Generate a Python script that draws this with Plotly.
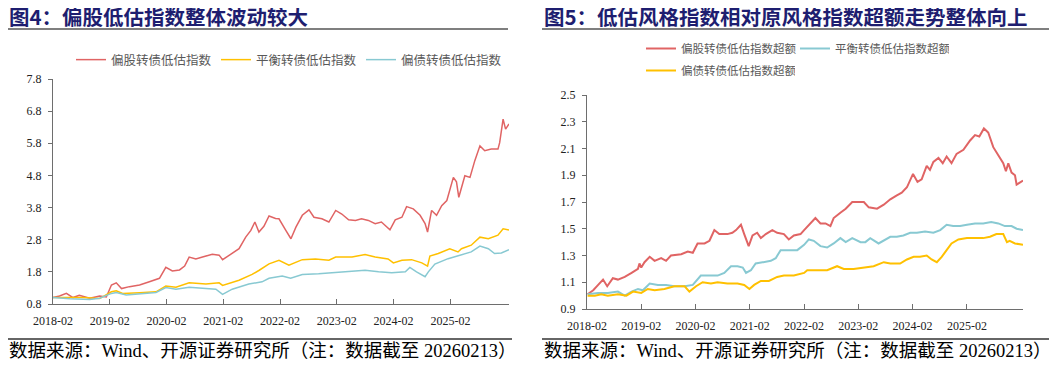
import plotly.graph_objects as go

# ---------------- Figure 4 data (left panel) ----------------
l_red_dates = ["2018-02-01","2018-02-20","2018-03-15","2018-04-28","2018-06-10","2018-07-20","2018-09-25","2018-11-01","2018-11-28","2019-01-10",
               "2019-02-12","2019-03-15","2019-04-18","2019-06-08","2019-08-12","2019-10-14","2019-12-18","2020-01-28","2020-03-10","2020-04-25",
               "2020-05-28","2020-06-26","2020-08-08","2020-09-20","2020-11-22","2021-01-05","2021-01-27","2021-03-22","2021-05-13","2021-06-25",
               "2021-07-28","2021-08-23","2021-09-18","2021-10-20","2021-11-22","2022-01-03","2022-01-25","2022-03-10","2022-04-12","2022-05-14",
               "2022-06-24","2022-08-06","2022-09-07","2022-10-28","2022-12-12","2023-01-25","2023-03-05","2023-04-18","2023-06-01","2023-07-10",
               "2023-08-23","2023-10-06","2023-11-15","2024-01-09","2024-02-12","2024-03-26","2024-04-25","2024-06-07","2024-07-21","2024-08-22",
               "2024-09-07","2024-10-03","2024-11-04","2024-12-07","2025-01-09","2025-02-20","2025-03-12","2025-03-27","2025-05-05","2025-06-07",
               "2025-07-08","2025-08-10","2025-09-10","2025-10-22","2025-12-04","2025-12-15","2026-01-06","2026-01-22","2026-02-13"]
l_red_vals = [1.00,1.02,1.05,1.13,1.00,1.07,0.98,1.02,1.05,1.02,
              1.39,1.46,1.28,1.34,1.39,1.49,1.60,1.94,1.83,1.86,
              1.98,2.26,2.20,2.26,2.35,2.32,2.18,2.35,2.52,2.88,
              3.09,3.35,3.04,3.22,3.54,3.46,3.45,3.09,2.83,3.19,
              3.56,3.73,3.50,3.45,3.35,3.71,3.60,3.42,3.40,3.45,
              3.40,3.30,3.35,3.11,3.42,3.50,3.83,3.76,3.56,3.30,
              3.04,3.71,3.56,3.86,4.02,4.74,4.60,4.12,4.79,4.74,
              5.26,5.72,5.57,5.62,5.62,5.82,6.55,6.24,6.40]

l_yel_dates = ["2018-02-01","2018-05-20","2018-08-13","2018-11-28","2019-02-12","2019-03-15","2019-04-25","2019-08-12","2019-11-26","2020-01-28",
               "2020-04-02","2020-06-26","2020-10-12","2021-01-05","2021-01-27","2021-05-13","2021-08-05","2021-09-20","2021-11-22","2022-01-25",
               "2022-03-30","2022-06-24","2022-09-16","2022-12-12","2023-01-25","2023-05-10","2023-08-02","2023-10-06","2023-12-28","2024-01-31",
               "2024-03-26","2024-05-27","2024-08-01","2024-09-07","2024-09-22","2024-11-15","2025-01-28","2025-03-22","2025-04-13","2025-06-15",
               "2025-08-10","2025-10-03","2025-12-04","2026-01-06","2026-02-13"]
l_yel_vals = [1.00,1.01,1.00,0.97,1.18,1.21,1.13,1.15,1.18,1.36,
              1.32,1.46,1.42,1.46,1.38,1.54,1.72,1.85,2.05,2.16,
              2.01,2.18,2.20,2.16,2.26,2.26,2.34,2.26,2.20,2.08,
              2.16,2.18,2.08,1.98,2.29,2.37,2.52,2.42,2.52,2.63,
              2.88,2.83,2.94,3.14,3.10]

l_teal_dates = ["2018-02-01","2018-05-20","2018-09-25","2018-11-28","2019-02-12","2019-03-15","2019-05-18","2019-09-01","2019-11-26","2020-01-28",
                "2020-04-02","2020-06-26","2020-10-12","2020-12-15","2021-01-27","2021-03-30","2021-07-15","2021-10-08","2021-11-22","2022-02-15",
                "2022-04-10","2022-06-24","2022-10-07","2023-01-25","2023-05-10","2023-08-02","2023-10-28","2024-01-20","2024-04-17","2024-05-16",
                "2024-06-28","2024-08-22","2024-09-12","2024-10-24","2025-01-17","2025-03-22","2025-06-15","2025-08-10","2025-10-03","2025-11-12",
                "2025-12-26","2026-02-13"]
l_teal_vals = [1.00,0.96,0.94,0.98,1.13,1.16,1.08,1.13,1.16,1.31,
               1.26,1.32,1.29,1.26,1.10,1.26,1.42,1.49,1.60,1.67,
               1.60,1.72,1.74,1.78,1.80,1.85,1.80,1.77,1.80,1.94,
               1.80,1.65,1.80,2.04,2.21,2.29,2.42,2.60,2.52,2.37,
               2.39,2.49]

# ---------------- Figure 5 data (right panel) ----------------
r_red_dates = ["2018-02-05","2018-03-15","2018-04-17","2018-05-20","2018-06-17","2018-07-25","2018-08-28","2018-10-13","2018-11-28","2019-01-10",
               "2019-01-20","2019-02-01","2019-02-23","2019-03-30","2019-05-02","2019-06-15","2019-07-18","2019-08-20","2019-10-28","2019-12-11",
               "2020-01-14","2020-02-15","2020-04-02","2020-05-05","2020-06-07","2020-07-10","2020-09-03","2020-10-06","2020-10-31","2020-12-03",
               "2020-12-25","2021-01-24","2021-02-19","2021-03-22","2021-04-16","2021-05-19","2021-07-02","2021-08-04","2021-09-18","2021-10-21",
               "2021-11-24","2022-01-08","2022-02-01","2022-03-05","2022-04-18","2022-05-22","2022-06-25","2022-07-28","2022-08-19","2022-10-03",
               "2022-11-08","2022-12-22","2023-02-05","2023-03-10","2023-04-12","2023-06-07","2023-07-22","2023-09-04","2023-10-18","2023-11-20",
               "2023-12-25","2024-02-04","2024-03-05","2024-04-02","2024-05-06","2024-05-28","2024-06-20","2024-07-24","2024-08-22","2024-09-17",
               "2024-10-20","2024-11-23","2025-01-08","2025-02-22","2025-03-27","2025-04-25","2025-05-26","2025-06-24","2025-07-28","2025-08-31",
               "2025-10-03","2025-10-21","2025-11-06","2025-11-28","2025-12-21","2026-01-01","2026-02-13"]
r_red_vals = [1.01,1.04,1.08,1.12,1.07,1.13,1.12,1.14,1.17,1.20,
              1.24,1.21,1.25,1.29,1.26,1.28,1.26,1.30,1.31,1.33,
              1.32,1.39,1.39,1.41,1.49,1.46,1.46,1.47,1.49,1.53,
              1.46,1.37,1.45,1.47,1.43,1.46,1.49,1.47,1.46,1.42,
              1.45,1.46,1.49,1.53,1.58,1.54,1.54,1.52,1.58,1.62,
              1.65,1.70,1.70,1.70,1.66,1.65,1.68,1.72,1.75,1.77,
              1.81,1.91,1.85,1.87,1.97,1.94,2.00,2.03,1.99,2.04,
              1.99,2.06,2.09,2.16,2.20,2.19,2.25,2.22,2.11,2.05,
              1.99,1.93,1.99,1.92,1.90,1.83,1.86]

r_teal_dates = ["2018-02-05","2018-04-17","2018-06-21","2018-08-28","2018-10-13","2018-11-28","2019-01-10","2019-02-12","2019-03-30","2019-05-24",
                "2019-07-18","2019-09-12","2019-11-20","2020-01-14","2020-03-08","2020-04-23","2020-06-29","2020-08-13","2020-09-27","2020-11-10",
                "2020-12-15","2021-01-06","2021-02-08","2021-03-12","2021-05-08","2021-06-22","2021-07-25","2021-08-27","2021-11-03","2021-12-17",
                "2022-02-01","2022-03-05","2022-04-07","2022-05-22","2022-07-06","2022-08-19","2022-10-03","2022-11-08","2022-12-22","2023-02-16",
                "2023-03-20","2023-04-22","2023-06-17","2023-07-22","2023-09-04","2023-10-18","2023-12-01","2024-01-16","2024-03-01","2024-04-25",
                "2024-06-20","2024-08-05","2024-09-17","2024-10-31","2024-12-17","2025-02-01","2025-03-27","2025-05-21","2025-07-14","2025-08-31",
                "2025-10-14","2025-11-28","2026-01-01","2026-02-13"]
r_teal_vals = [1.01,1.02,1.02,1.03,1.00,1.03,1.05,1.04,1.09,1.08,
               1.08,1.07,1.07,1.08,1.15,1.15,1.15,1.17,1.22,1.22,
               1.21,1.17,1.19,1.24,1.25,1.26,1.28,1.34,1.34,1.34,
               1.38,1.42,1.41,1.37,1.36,1.39,1.43,1.40,1.43,1.40,
               1.40,1.43,1.39,1.41,1.44,1.44,1.45,1.47,1.47,1.48,
               1.47,1.49,1.53,1.52,1.52,1.53,1.54,1.54,1.55,1.54,
               1.52,1.52,1.50,1.49]

r_yel_dates = ["2018-02-05","2018-03-26","2018-05-08","2018-06-21","2018-08-28","2018-10-24","2018-12-08","2019-02-01","2019-03-17","2019-05-02",
               "2019-07-07","2019-09-12","2019-11-20","2019-12-22","2020-02-05","2020-03-20","2020-05-15","2020-06-29","2020-09-03","2020-11-10",
               "2020-12-25","2021-01-29","2021-03-02","2021-04-16","2021-06-09","2021-08-04","2021-09-18","2021-11-24","2022-02-01","2022-02-22",
               "2022-04-29","2022-07-06","2022-09-11","2022-10-26","2022-12-31","2023-03-10","2023-05-15","2023-07-22","2023-09-04","2023-11-09",
               "2023-12-25","2024-02-08","2024-03-22","2024-05-06","2024-06-08","2024-07-13","2024-08-15","2024-09-17","2024-10-20","2024-12-05",
               "2025-02-01","2025-03-27","2025-05-21","2025-07-06","2025-08-18","2025-10-03","2025-10-28","2025-11-15","2025-12-21","2026-02-13"]
r_yel_vals = [1.00,1.00,1.01,1.00,1.01,1.00,1.03,1.02,1.05,1.04,
              1.05,1.07,1.07,1.03,1.07,1.10,1.09,1.10,1.09,1.09,
              1.08,1.05,1.08,1.11,1.11,1.14,1.15,1.15,1.17,1.19,
              1.19,1.19,1.22,1.20,1.20,1.21,1.22,1.25,1.24,1.24,
              1.27,1.29,1.29,1.30,1.27,1.25,1.29,1.34,1.39,1.42,
              1.43,1.43,1.43,1.44,1.46,1.46,1.40,1.41,1.39,1.38]

# ---------------- axis tick labels ----------------
year_ticks = ["2018-02-01","2019-02-01","2020-02-01","2021-02-01","2022-02-01","2023-02-01","2024-02-01","2025-02-01","2026-02-13"]
year_labels = ["2018-02","2019-02","2020-02","2021-02","2022-02","2023-02","2024-02","2025-02",""]
l_yticks = [0.8,1.8,2.8,3.8,4.8,5.8,6.8,7.8]
r_yticks = [0.9,1.1,1.3,1.5,1.7,1.9,2.1,2.3,2.5]

# ---------------- styling ----------------
# the page places the figure 8 px in from the window's top-left corner
OFF = 8
W, H = 1057 - OFF, 365 - OFF
RED, YEL, TEAL = "#E06464", "#FFC000", "#88C9D2"
NAVY = "#1E1E70"
SERIF = "Liberation Serif, Noto Sans CJK SC"
CJK = "Noto Sans CJK SC"

def px(x):
    return (x - OFF) / W

def py(y):
    return 1 - (y - OFF) / H

fig = go.Figure()
# left panel
fig.add_trace(go.Scatter(x=l_red_dates, y=l_red_vals, mode="lines", name="偏股转债低估指数",
                         line=dict(color=RED, width=1.5), xaxis="x", yaxis="y", legend="legend"))
fig.add_trace(go.Scatter(x=l_yel_dates, y=l_yel_vals, mode="lines", name="平衡转债低估指数",
                         line=dict(color=YEL, width=1.5), xaxis="x", yaxis="y", legend="legend"))
fig.add_trace(go.Scatter(x=l_teal_dates, y=l_teal_vals, mode="lines", name="偏债转债低估指数",
                         line=dict(color=TEAL, width=1.5), xaxis="x", yaxis="y", legend="legend"))
# right panel
fig.add_trace(go.Scatter(x=r_red_dates, y=r_red_vals, mode="lines", name="偏股转债低估指数超额",
                         line=dict(color=RED, width=2), xaxis="x2", yaxis="y2", legend="legend2"))
fig.add_trace(go.Scatter(x=r_teal_dates, y=r_teal_vals, mode="lines", name="平衡转债低估指数超额",
                         line=dict(color=TEAL, width=2), xaxis="x2", yaxis="y2", legend="legend2"))
fig.add_trace(go.Scatter(x=r_yel_dates, y=r_yel_vals, mode="lines", name="偏债转债低估指数超额",
                         line=dict(color=YEL, width=2), xaxis="x2", yaxis="y2", legend="legend3"))

axis_line = "#6E6E6E"
xcommon = dict(type="date", tickmode="array", tickvals=year_ticks, ticktext=year_labels,
               range=["2018-02-01", "2026-02-13"], ticks="inside", ticklen=5, tickcolor=axis_line,
               showline=True, linecolor=axis_line, linewidth=1, showgrid=False, zeroline=False,
               tickfont=dict(family=SERIF, size=12, color="#222222"), ticklabelstandoff=6,
               fixedrange=True, automargin=False)
ycommon = dict(ticks="outside", ticklen=4, tickcolor=axis_line, showline=True, linecolor=axis_line,
               linewidth=1, showgrid=False, zeroline=False, tickformat=".1f",
               tickfont=dict(family=SERIF, size=12, color="#222222"), ticklabelstandoff=4,
               fixedrange=True, automargin=False)

legend_font_l = dict(family=CJK, size=12.5, color="#595959")
legend_font_r = dict(family=CJK, size=11.5, color="#595959")

fig.update_layout(
    width=W, height=H, autosize=False,
    margin=dict(l=0, r=0, t=0, b=0, pad=0, autoexpand=False),
    paper_bgcolor="white", plot_bgcolor="white",
    xaxis=dict(domain=[px(53), px(509)], anchor="y", **xcommon),
    yaxis=dict(domain=[py(304), py(79)], anchor="x", range=[0.8, 7.8], tickvals=l_yticks, **ycommon),
    xaxis2=dict(domain=[px(587), px(1023)], anchor="y2", **xcommon),
    yaxis2=dict(domain=[py(309), py(95)], anchor="x2", range=[0.9, 2.5], tickvals=r_yticks, **ycommon),
    legend=dict(orientation="h", x=px(71), y=py(45), xanchor="left", yanchor="top",
                font=legend_font_l, entrywidth=100, itemwidth=30, bgcolor="rgba(0,0,0,0)"),
    legend2=dict(orientation="h", x=px(641), y=py(34), xanchor="left", yanchor="top",
                 font=legend_font_r, entrywidth=109, itemwidth=30, bgcolor="rgba(0,0,0,0)"),
    legend3=dict(orientation="h", x=px(641), y=py(56), xanchor="left", yanchor="top",
                 font=legend_font_r, entrywidth=109, itemwidth=30, bgcolor="rgba(0,0,0,0)"),
    showlegend=True,
)

# titles
fig.add_annotation(text="<b>图4：偏股低估指数整体波动较大</b>", xref="paper", yref="paper",
                   x=px(7), y=py(16), xanchor="left", yanchor="middle", showarrow=False,
                   font=dict(family=CJK, size=20.5, color=NAVY))
fig.add_annotation(text="<b>图5：低估风格指数相对原风格指数超额走势整体向上</b>", xref="paper", yref="paper",
                   x=px(542), y=py(16), xanchor="left", yanchor="middle", showarrow=False,
                   font=dict(family=CJK, size=20.5, color=NAVY))
# footnotes
note = "数据来源：Wind、开源证券研究所（注：数据截至 20260213）"
fig.add_annotation(text=note, xref="paper", yref="paper", x=px(7), y=py(351), xanchor="left",
                   yanchor="middle", showarrow=False, font=dict(family=SERIF, size=18.5, color="#000000"))
fig.add_annotation(text=note, xref="paper", yref="paper", x=px(542), y=py(351), xanchor="left",
                   yanchor="middle", showarrow=False, font=dict(family=SERIF, size=18.5, color="#000000"))

# title and footnote rules
for x0, x1 in [(8, 508), (542, 1050)]:
    fig.add_shape(type="line", xref="paper", yref="paper", x0=px(x0), x1=px(x1), y0=py(29), y1=py(29),
                  line=dict(color="#7F7F7F", width=2))
for x0, x1 in [(8, 512), (542, 1052)]:
    fig.add_shape(type="line", xref="paper", yref="paper", x0=px(x0), x1=px(x1), y0=py(339), y1=py(339),
                  line=dict(color="#333333", width=1.5))

fig.write_html("out.html")
